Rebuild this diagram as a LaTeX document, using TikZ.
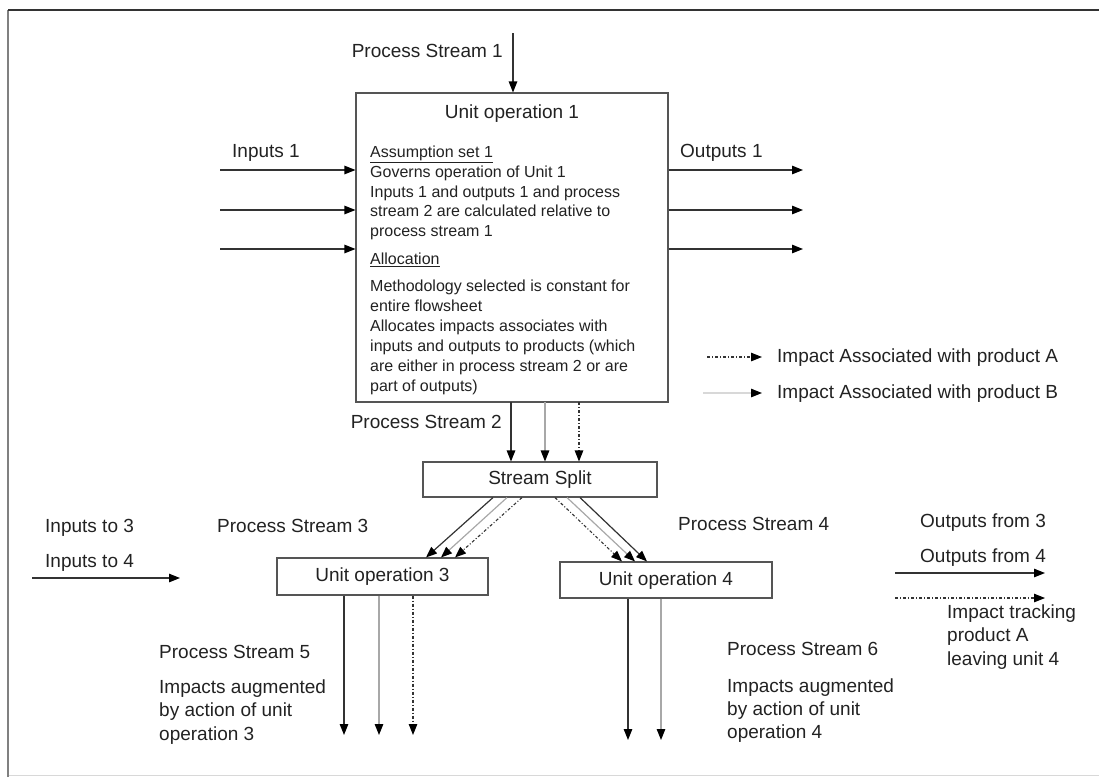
\documentclass[tikz,border=0pt]{standalone}
\usepackage{fontspec}
\setmainfont{Liberation Sans}
\usetikzlibrary{arrows.meta}

\definecolor{ink}{HTML}{222222}
\definecolor{lineA}{HTML}{333333}
\definecolor{lineB}{HTML}{A8A8A8}
\definecolor{lineLight}{HTML}{D8D8D8}
\definecolor{edge}{HTML}{555555}

\tikzset{
  lbl/.style={font=\fontsize{19}{23}\selectfont, inner sep=0pt, text=ink,
              text height=14pt, text depth=4pt},
  body/.style={font=\fontsize{16}{19.5}\selectfont, inner sep=0pt, text=ink,
               anchor=base west},
  opbox/.style={draw=edge, line width=1.1pt, fill=white, inner sep=0pt},
  tip/.style={-{Triangle[length=11pt,width=8.5pt,color=black]}},
  flow/.style={tip, draw=lineA, line width=1.2pt},
  flowB/.style={tip, draw=lineB, line width=1.2pt},
  flowL/.style={tip, draw=lineLight, line width=1.2pt},
  flowA/.style={tip, draw=lineA, line width=1.1pt,
                dash pattern=on 3pt off 2pt on 1pt off 2pt},
}

\begin{document}
\begin{tikzpicture}[x=1pt,y=-1pt]
\useasboundingbox (0,0) rectangle (1099,777);

% outer frame
\draw[color=lineLight, line width=1pt] (8,775) -- (1099,775);
\draw[color=gray, line width=1.2pt] (8,777) -- (8,10);
\draw[color=lineA, line width=1.6pt] (8,10) -- (1099,10);

% ---------- unit operation 1 ----------
\node[opbox, minimum width=312pt, minimum height=309pt] (u1) at (512,247.5) {};
\node[lbl] (u1title) at (512,113) {Unit operation 1};
\node[body] (ass) at (370,157.5) {\underline{Assumption set 1}};
\foreach \t [count=\i] in {{Governs operation of Unit 1},
    {Inputs 1 and outputs 1 and process},
    {stream 2 are calculated relative to},
    {process stream 1}}
  \node[body] (ga\i) at (370,{177.5+19.65*(\i-1)}) {\t};
\node[body] (alloc) at (370,264.5) {\underline{Allocation}};
\foreach \t [count=\i] in {{Methodology selected is constant for},
    {entire flowsheet},
    {Allocates impacts associates with},
    {inputs and outputs to products (which},
    {are either in process stream 2 or are},
    {part of outputs)}}
  \node[body] (gb\i) at (370,{291.5+20*(\i-1)}) {\t};

% process stream 1
\coordinate (ps1) at (513,33);
\draw[flow] (ps1) -- (ps1 |- u1.north);
\node[lbl, anchor=east] (ps1lbl) at (503,52) {Process Stream 1};

% inputs 1 / outputs 1
\node[lbl, anchor=west] (in1lbl) at (232,152) {Inputs 1};
\node[lbl, anchor=west] (out1lbl) at (680,152) {Outputs 1};
\foreach \y [count=\i] in {170,210,249} {
  \coordinate (in\i) at (220,\y);
  \coordinate (out\i) at (803,\y);
  \draw[flow] (in\i) -- (in\i -| u1.west);
  \draw[flow] (out\i -| u1.east) -- (out\i);
}

% legend
\coordinate (lgA0) at (707,357);
\coordinate (lgA1) at (762,357);
\coordinate (lgB0) at (703,393);
\coordinate (lgB1) at (762,393);
\draw[flowA] (lgA0) -- (lgA1);
\draw[flowL] (lgB0) -- (lgB1);
\node[lbl, anchor=west] (lgAlbl) at (777,357) {Impact Associated with product A};
\node[lbl, anchor=west] (lgBlbl) at (777,393) {Impact Associated with product B};

% ---------- stream split ----------
\node[opbox, minimum width=234pt, minimum height=35pt] (split) at (540,479.5) {};
\node[lbl] (splitlbl) at (540,479.5) {Stream Split};

\node[lbl, anchor=east] (ps2lbl) at (502,423) {Process Stream 2};
\coordinate (p2a) at (511,402);
\coordinate (p2b) at (545,402);
\coordinate (p2c) at (579,402);
\draw[flow]  (p2a) -- (p2a |- split.north);
\draw[flowB] (p2b) -- (p2b |- split.north);
\draw[flowA] (p2c) -- (p2c |- split.north);

% ---------- unit operations 3 and 4 ----------
\node[opbox, minimum width=211pt, minimum height=37pt] (u3) at (382.5,576.5) {};
\node[lbl] (u3lbl) at (382.5,576.5) {Unit operation 3};
\node[opbox, minimum width=212pt, minimum height=36pt] (u4) at (666,580) {};
\node[lbl] (u4lbl) at (666,580) {Unit operation 4};

\draw[flow]  ([xshift=-47pt]split.south) -- ([xshift=43.5pt]u3.north);
\draw[flowB] ([xshift=-33pt]split.south) -- ([xshift=58.5pt]u3.north);
\draw[flowA] ([xshift=-18pt]split.south) -- ([xshift=72.5pt]u3.north);
\draw[flowA] ([xshift=15pt]split.south) -- ([xshift=-44pt]u4.north);
\draw[flowB] ([xshift=27pt]split.south) -- ([xshift=-31pt]u4.north);
\draw[flow]  ([xshift=40pt]split.south) -- ([xshift=-19pt]u4.north);

\node[lbl, anchor=west] (ps3lbl) at (217,527) {Process Stream 3};
\node[lbl, anchor=west] (ps4lbl) at (678,525) {Process Stream 4};

% side inputs and outputs
\node[lbl, anchor=west] (in3lbl) at (45,527) {Inputs to 3};
\node[lbl, anchor=west] (in4lbl) at (45,562) {Inputs to 4};
\coordinate (inS0) at (32,578);
\coordinate (inS1) at (180,578);
\draw[flow] (inS0) -- (inS1);

\node[lbl, anchor=west] (out3lbl) at (920,522) {Outputs from 3};
\node[lbl, anchor=west] (out4lbl) at (920,557) {Outputs from 4};
\coordinate (outS0) at (895,573);
\coordinate (outS1) at (1045,573);
\coordinate (trk0) at (895,598);
\coordinate (trk1) at (1045,598);
\draw[flow] (outS0) -- (outS1);
\draw[flowA] (trk0) -- (trk1);
\foreach \t [count=\i] in {{Impact tracking},{product A},{leaving unit 4}}
  \node[lbl, anchor=west] (trk\i lbl) at (947,{613+23.5*(\i-1)}) {\t};

% streams leaving unit 3
\coordinate (p5end) at (0,735);
\draw[flow]  ([xshift=-38.5pt]u3.south) -- ([xshift=-38.5pt]u3.south |- p5end);
\draw[flowB] ([xshift=-3.5pt]u3.south) -- ([xshift=-3.5pt]u3.south |- p5end);
\draw[flowA] ([xshift=30.5pt]u3.south) -- ([xshift=30.5pt]u3.south |- p5end);
\node[lbl, anchor=west] (ps5lbl) at (159,653) {Process Stream 5};
\foreach \t [count=\i] in {{Impacts augmented},{by action of unit},{operation 3}}
  \node[lbl, anchor=west] (ps5t\i) at (159,{688+23.5*(\i-1)}) {\t};

% streams leaving unit 4
\coordinate (p6end) at (0,740);
\draw[flow]  ([xshift=-38pt]u4.south) -- ([xshift=-38pt]u4.south |- p6end);
\draw[flowB] ([xshift=-5pt]u4.south) -- ([xshift=-5pt]u4.south |- p6end);
\node[lbl, anchor=west] (ps6lbl) at (727,650) {Process Stream 6};
\foreach \t [count=\i] in {{Impacts augmented},{by action of unit},{operation 4}}
  \node[lbl, anchor=west] (ps6t\i) at (727,{687+23*(\i-1)}) {\t};
\end{tikzpicture}
\end{document}
